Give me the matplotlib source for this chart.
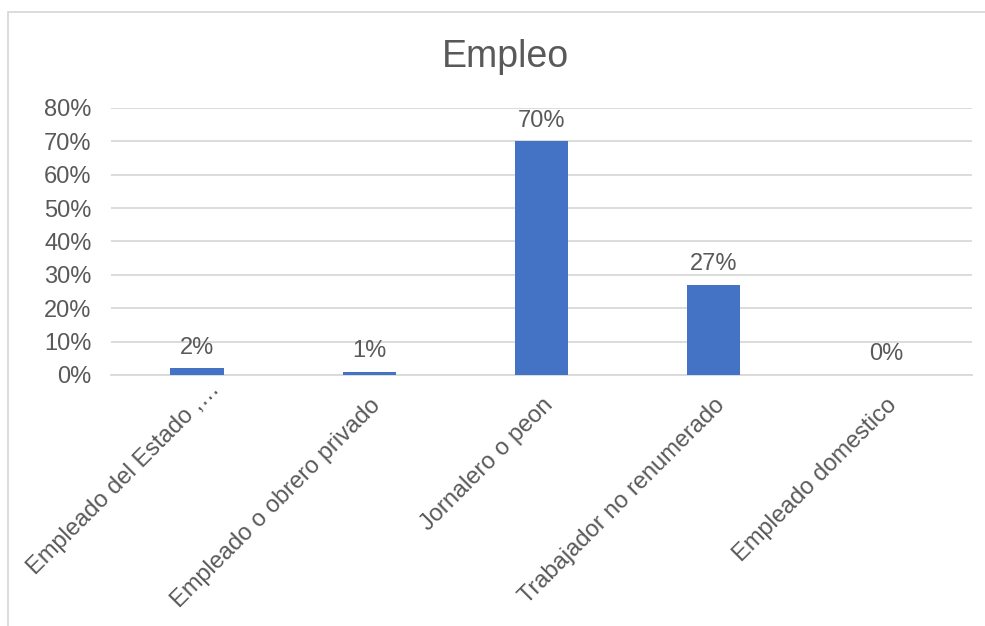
import matplotlib.pyplot as plt
from matplotlib.patches import Rectangle
from matplotlib.ticker import FuncFormatter
from matplotlib.transforms import ScaledTranslation

plt.rcParams['font.family'] = ['Liberation Sans', 'DejaVu Sans']

categorias = ["Empleado del Estado ,…", "Empleado o obrero privado", "Jornalero o peon",
              "Trabajador no renumerado", "Empleado domestico"]
valores = [0.02, 0.01, 0.70, 0.27, 0.0]
etiquetas = ["2%", "1%", "70%", "27%", "0%"]

gris = '#595959'

fig = plt.figure(figsize=(9.85, 6.26), dpi=100)
ax = fig.add_axes([0.1127, 0.401, 0.874, 0.4265])

x = range(len(categorias))
barras = ax.bar(x, valores, width=0.31, color='#4472C4', zorder=3)

for b, txt in zip(barras, etiquetas):
    ax.annotate(txt, (b.get_x() + b.get_width() / 2, b.get_height()),
                xytext=(0, 7), textcoords='offset points', ha='center', va='bottom',
                fontsize=17, color=gris)

ax.set_xlim(-0.5, len(categorias) - 0.5)
ax.set_ylim(0, 0.8)
ax.set_yticks([i / 10 for i in range(9)])
ax.yaxis.set_major_formatter(FuncFormatter(lambda v, p: f"{v*100:.0f}%"))
ax.grid(axis='y', color='#D9D9D9', linewidth=1.3, zorder=0)

ax.set_xticks(list(x))
ax.set_xticklabels(categorias, rotation=45, ha='right', rotation_mode='anchor')
ax.tick_params(axis='both', length=0, labelsize=17, labelcolor=gris)
ax.tick_params(axis='x', pad=14)
ax.tick_params(axis='y', pad=14)

# la primera etiqueta (recortada) queda un poco mas arriba
lbl0 = ax.get_xticklabels()[0]
lbl0.set_transform(lbl0.get_transform() + ScaledTranslation(0.12, 0.16, fig.dpi_scale_trans))

for s in ['top', 'right', 'left']:
    ax.spines[s].set_visible(False)
ax.spines['bottom'].set_color('#D9D9D9')
ax.spines['bottom'].set_linewidth(1.3)

fig.text(505 / 985, 1 - 67 / 626, "Empleo", fontsize=27, color=gris, ha='center', va='baseline')

# marco del grafico
fig.patches.append(Rectangle((8 / 985, -0.1), 1.2, 1.1 - 12 / 626, transform=fig.transFigure,
                             fill=False, edgecolor='#D9D9D9', linewidth=1.3))

fig.savefig("out.png", dpi=100)
